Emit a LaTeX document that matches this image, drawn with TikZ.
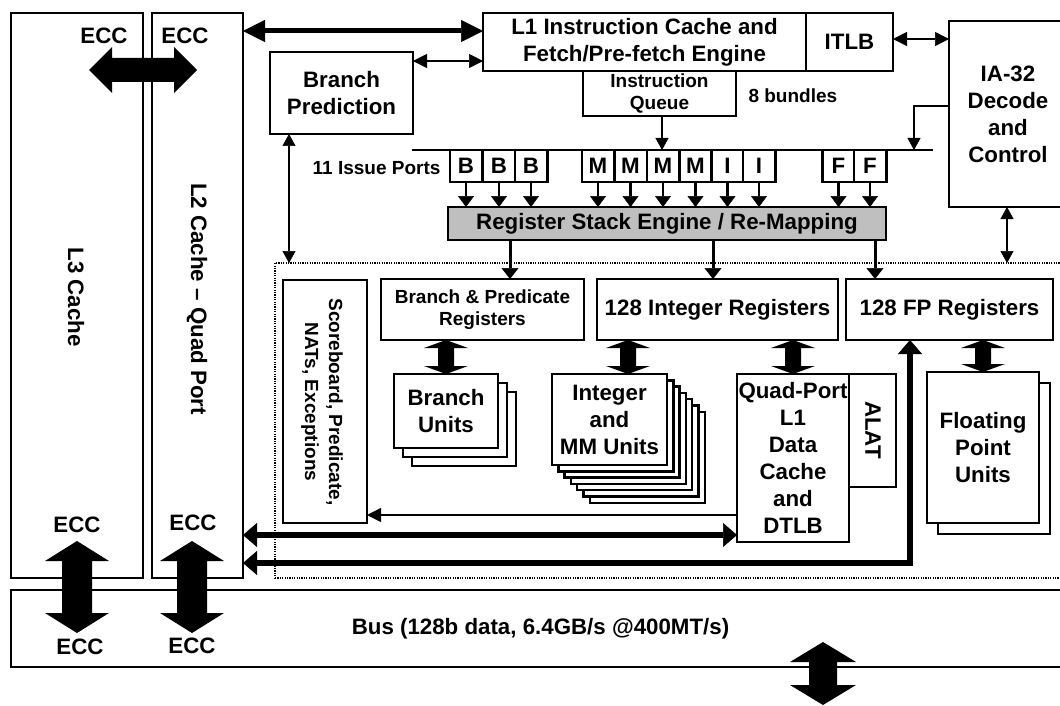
\documentclass[tikz,border=0pt]{standalone}
\usepackage{fontspec}
\setmainfont{Liberation Sans}
\usetikzlibrary{arrows.meta,calc}

% block double arrow: #1 A, #2 B, #3 shaft half width, #4 head half width, #5 head length
\newcommand\blockdbl[5]{%
  \fill[black] (#1) -- ($(#1)!#5!(#2)!#4!90:(#2)$) -- ($(#1)!#5!(#2)!#3!90:(#2)$)
    -- ($(#2)!#5!(#1)!#3!-90:(#1)$) -- ($(#2)!#5!(#1)!#4!-90:(#1)$) -- (#2)
    -- ($(#2)!#5!(#1)!#4!90:(#1)$) -- ($(#2)!#5!(#1)!#3!90:(#1)$)
    -- ($(#1)!#5!(#2)!#3!-90:(#2)$) -- ($(#1)!#5!(#2)!#4!-90:(#2)$) -- cycle;}

\begin{document}
\begin{tikzpicture}[x=1pt,y=-1pt,
  mainf/.style={font=\bfseries\fontsize{22.3}{27}\selectfont},
  smallf/.style={font=\bfseries\fontsize{19}{22.5}\selectfont},
  box/.style={draw, line width=2.5pt, fill=white, inner sep=0pt, outer sep=0pt, align=center, mainf},
  port/.style={box, minimum width=32.5pt, minimum height=32pt},
  stack/.style={draw, line width=2.5pt, fill=white},
  dotbox/.style={draw, line width=2pt, dash pattern=on 1.2pt off 1.2pt, inner sep=0pt, outer sep=0pt},
  tS/.tip={Triangle[length=12pt,width=13pt,line width=0.5pt]},
  tP/.tip={Triangle[length=11pt,width=16pt,line width=0.5pt]},
  tR/.tip={Triangle[length=11pt,width=17pt,line width=0.5pt]},
  tM/.tip={Triangle[length=14pt,width=14pt,line width=0.5pt]},
  tB/.tip={Triangle[length=14pt,width=24pt,line width=0.5pt]},
  tL/.tip={Triangle[length=22pt,width=22pt,line width=0.5pt]},
  thin/.style={line width=2.2pt},
  mid/.style={line width=2.8pt},
  thick/.style={line width=6pt},
]
\useasboundingbox (0,0) rectangle (1060,706);
\fill[white] (0,0) rectangle (1060,706);
\clip (0,0) rectangle (1060,706);

% core region (dotted)
\node[dotbox, minimum width=800pt, minimum height=315pt] (core) at (675,420.5) {};

% caches
\node[box, minimum width=132pt, minimum height=565pt] (l3) at (77,295.5) {};
\node[box, minimum width=91pt, minimum height=565pt] (l2) at (197.5,295.5) {};
\node[mainf, rotate=-90] (l3t) at (76,297) {L3 Cache};
\node[mainf, rotate=-90] (l2t) at (197,299) {L2 Cache – Quad Port};
\node[mainf] (ecc1) at (104,36) {ECC};
\node[mainf] (ecc2) at (185,36) {ECC};
\node[mainf] (ecc3) at (77,525) {ECC};
\node[mainf] (ecc4) at (193,523) {ECC};

% bus
\node[box, minimum width=1059pt, minimum height=77pt] (bus) at (540.5,628.5) {Bus (128b data, 6.4GB/s @400MT/s)};
\node[mainf] (ecc5) at (80,647) {ECC};
\node[mainf] (ecc6) at (192,646) {ECC};

% front end
\node[box, smallf, minimum width=153pt, minimum height=45pt] (iq) at (659.5,93.5) {Instruction\\Queue};
\node[box, minimum width=323pt, minimum height=58pt] (l1i) at (644.5,42) {L1 Instruction Cache and\\Fetch/Pre-fetch Engine};
\node[box, minimum width=87pt, minimum height=58pt] (itlb) at (849.5,42) {ITLB};
\node[smallf, anchor=west] (bund) at (745,96) {8 bundles};
\node[box, minimum width=143pt, minimum height=82pt] (bp) at (341.5,93) {Branch\\Prediction};
\node[box, minimum width=118pt, minimum height=186pt] (ia) at (1008,114) {IA-32\\Decode\\and\\Control};
\node[box, fill=black!25, minimum width=438pt, minimum height=33pt] (rse) at (667,223.5) {Register Stack Engine / Re-Mapping};

% issue ports
\coordinate (issL) at (412,150);
\coordinate (issR) at (933,150);
\draw[mid] (issL) -- (issR);
\node[smallf, anchor=east] (ports) at (444,168) {11 Issue Ports};
\foreach \n/\x/\l in {b1/466/B, b2/499/B, b3/531/B, m1/598/M, m2/630.5/M, m3/663/M, m4/695.5/M, i1/727.5/I, i2/759/I, f1/838.5/F, f2/870/F} {
  \node[port] (\n) at (\x,166) {\l};
  \draw[mid, -tP] (\n.south) -- (\n.south |- rse.north);
}

% register files and units
\node[box, minimum width=84pt, minimum height=243pt] (sb) at (325,401.5) {};
\node[smallf, rotate=-90, align=center, font=\bfseries\fontsize{19}{24}\selectfont] (sbt) at (322,402) {Scoreboard, Predicate,\\NATs, Exceptions};
\node[box, smallf, minimum width=203pt, minimum height=61pt] (bpr) at (482.5,309.5) {Branch \& Predicate\\Registers};
\node[box, minimum width=241pt, minimum height=61pt] (ir) at (717.5,309.5) {128 Integer Registers};
\node[box, minimum width=207pt, minimum height=61pt] (fpr) at (949.5,309.5) {128 FP Registers};

\foreach \k in {2,1} \draw[stack] ({394+9*\k},{374+9*\k}) rectangle ++(104,74);
\node[box, minimum width=104pt, minimum height=74pt] (bu) at (446,411) {Branch\\Units};

\foreach \k in {6,5,...,1} \draw[stack] ({552+6.3*\k},{374+6.3*\k}) rectangle ++(115,91);
\node[box, minimum width=115pt, minimum height=91pt] (imu) at (609.5,419.5) {Integer\\and\\MM Units};

\node[box, minimum width=47pt, minimum height=113pt] (alat) at (872.5,430.5) {};
\node[mainf, rotate=-90] (alatt) at (873,430) {ALAT};
\node[box, minimum width=112pt, minimum height=168pt] (qp) at (793,458) {Quad-Port\\L1\\Data\\Cache\\and\\DTLB};

\draw[stack] (938,383) rectangle ++(112,151);
\node[box, minimum width=112pt, minimum height=151pt] (fpu) at (983,447.5) {Floating\\Point\\Units};

% connectors
\draw[line width=5pt, tL-tL] (l2.east |- 0,31) -- (l1i.west |- 0,31);
\draw[mid, tM-tM] (bp.east |- 0,61) -- (l1i.west |- 0,61);
\draw[mid, tM-tM] (itlb.east |- 0,39) -- (ia.west |- 0,39);
\draw[mid, -tS] (iq.south -| 662,0) -- (issL -| 662,0);
\draw[mid, -tS] (ia.west |- 0,106) -| (issL -| 914,0);
\draw[mid, tS-tS] (bp.south -| 289,0) -- (core.north -| 289,0);
\draw[mid, tS-tS] (ia.south -| 1007,0) -- (core.north -| 1007,0);
\draw[line width=3pt, -tR] (rse.south -| 510,0) -- (bpr.north -| 510,0);
\draw[line width=3pt, -tR] (rse.south -| 713,0) -- (ir.north -| 713,0);
\draw[line width=3pt, -tR] (rse.south -| 875,0) -- (fpr.north -| 875,0);
\draw[thin, -tM] (qp.west |- 0,515) -- (sb.east |- 0,515);
\draw[thick, tB-tB] (l2.east |- 0,535) -- (qp.west |- 0,535);
\draw[thick, tB-tB] (l2.east |- 0,563) -| (fpr.south -| 910,0);

% block arrows
\coordinate (h1) at (89,70);
\coordinate (h2) at (197,70);
\blockdbl{h1}{h2}{12pt}{23pt}{23pt}
\coordinate (v1a) at (77,541);
\coordinate (v1b) at (77,633);
\blockdbl{v1a}{v1b}{15pt}{32pt}{20pt}
\coordinate (v2a) at (192,541);
\coordinate (v2b) at (192,633);
\blockdbl{v2a}{v2b}{15pt}{32pt}{20pt}
\coordinate (v3a) at (823,642);
\coordinate (v3b) at (823,705);
\blockdbl{v3a}{v3b}{14pt}{33pt}{20pt}

\coordinate (s1a) at (bu.north |- bpr.south);
\blockdbl{s1a}{bu.north}{8pt}{22pt}{8pt}
\coordinate (s2b) at ([xshift=18.5pt]imu.north);
\coordinate (s2a) at (s2b |- ir.south);
\blockdbl{s2a}{s2b}{8pt}{22pt}{8pt}
\coordinate (s3a) at (qp.north |- ir.south);
\blockdbl{s3a}{qp.north}{8pt}{22pt}{8pt}
\coordinate (s4a) at (fpu.north |- fpr.south);
\blockdbl{s4a}{fpu.north}{8pt}{22pt}{8pt}
\end{tikzpicture}
\end{document}
